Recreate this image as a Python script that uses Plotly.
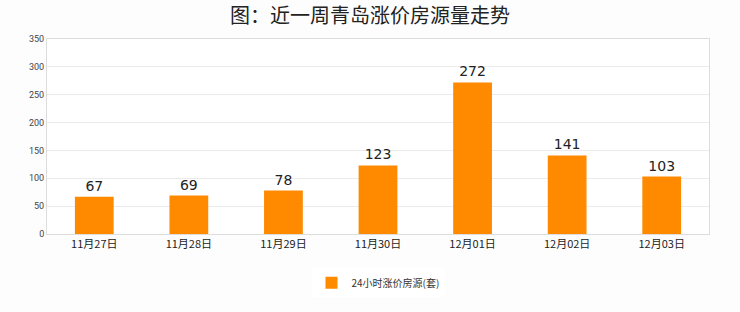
import plotly.graph_objects as go

categories = ["11月27日", "11月28日", "11月29日", "11月30日", "12月01日", "12月02日", "12月03日"]
values = [67, 69, 78, 123, 272, 141, 103]
series_name = "24小时涨价房源(套)"
title = "图：近一周青岛涨价房源量走势"
y_ticks = [0, 50, 100, 150, 200, 250, 300, 350]

fig = go.Figure()
fig.add_trace(go.Bar(
    x=categories, y=values, name=series_name,
    marker=dict(color="#FF8A00", line=dict(width=0)),
    text=[str(v) for v in values], textposition="outside",
    textfont=dict(size=14, color="#222", family="DejaVu Sans"),
    cliponaxis=False,
))
fig.update_layout(
    width=740, height=312,
    margin=dict(l=47, r=31, t=39, b=78),
    paper_bgcolor="#fdfdfd", plot_bgcolor="#ffffff",
    title=dict(text=title, x=0.5, y=0.95, xanchor="center", yanchor="middle",
               font=dict(size=20, color="#222", family="Noto Sans CJK SC")),
    bargap=0.59,
    showlegend=True,
    legend=dict(orientation="h", x=0.5, xanchor="center", y=-0.25, yanchor="middle",
                font=dict(size=10, color="#333", family="Noto Sans CJK SC"),
                bgcolor="#ffffff"),
    xaxis=dict(showline=True, linecolor="#dddddd", mirror=True, ticks="",
               tickfont=dict(size=11, color="#222", family="Noto Sans CJK SC")),
    yaxis=dict(range=[0, 350], tickvals=y_ticks, showgrid=True, gridcolor="#ebebeb",
               showline=True, linecolor="#dddddd", mirror=True, zeroline=False,
               tickfont=dict(size=9, color="#444", family="Roboto")),
)
fig.write_html("out.html")
